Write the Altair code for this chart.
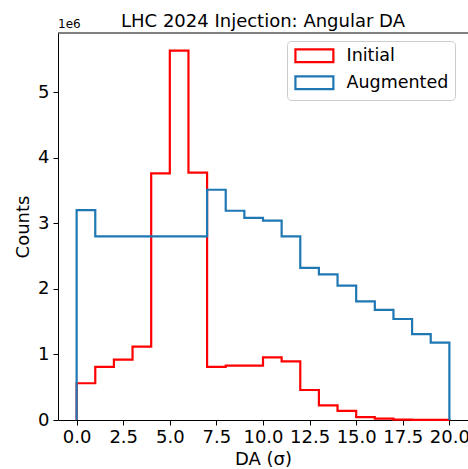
import altair as alt
import pandas as pd

bin_edges = list(range(0, 21))
initial_counts = [0.56e6, 0.81e6, 0.92e6, 1.12e6, 3.76e6, 5.63e6, 3.77e6, 0.81e6, 0.83e6, 0.83e6,
                  0.955e6, 0.895e6, 0.457e6, 0.224e6, 0.14e6, 0.045e6, 0.02e6, 0.007e6, 0.003e6, 0.001e6]
augmented_counts = [3.20e6, 2.80e6, 2.80e6, 2.80e6, 2.80e6, 2.80e6, 2.80e6, 3.51e6, 3.19e6, 3.08e6,
                    3.04e6, 2.80e6, 2.32e6, 2.22e6, 2.05e6, 1.81e6, 1.68e6, 1.54e6, 1.31e6, 1.18e6]
series_names = ["Initial", "Augmented"]
series_colors = ["#ff0000", "#1f77b4"]
x_ticks = [0, 2.5, 5, 7.5, 10, 12.5, 15, 17.5, 20]
y_ticks = [0, 1e6, 2e6, 3e6, 4e6, 5e6]
title_text = "LHC 2024 Injection: Angular DA"


def step_rows(name, counts):
    rows = [{"series": name, "x": bin_edges[0], "y": 0.0}]
    for e, c in zip(bin_edges[:-1], counts):
        rows.append({"series": name, "x": e, "y": c})
    rows.append({"series": name, "x": bin_edges[-1], "y": counts[-1]})
    rows.append({"series": name, "x": bin_edges[-1], "y": 0.0})
    for i, r in enumerate(rows):
        r["idx"] = i
    return rows


df_init = pd.DataFrame(step_rows("Initial", initial_counts))
df_aug = pd.DataFrame(step_rows("Augmented", augmented_counts))

FONT = "DejaVu Sans"

x_enc = alt.X("x:Q", scale=alt.Scale(domain=[-1, 21], nice=False, zero=False),
              axis=alt.Axis(values=x_ticks, format=".1f", title="DA (σ)", grid=False,
                            tickSize=5, labelPadding=3, labelFontSize=18, titleFontSize=18,
                            titleFontWeight="normal", titlePadding=4, labelFlush=False,
                            domainColor="black", tickColor="black", labelColor="black",
                            titleColor="black", labelFont=FONT, titleFont=FONT))
y_enc = alt.Y("y:Q", scale=alt.Scale(domain=[0, 5.9e6], nice=False),
              axis=alt.Axis(values=y_ticks, labelExpr="format(datum.value/1e6, 'd')", title="Counts",
                            grid=False, tickSize=5, labelPadding=4, labelFontSize=18, titleFontSize=18,
                            titleFontWeight="normal", titlePadding=5,
                            domainColor="black", tickColor="black", labelColor="black",
                            titleColor="black", labelFont=FONT, titleFont=FONT))

color_enc = alt.Color("series:N", scale=alt.Scale(domain=series_names, range=series_colors),
                      legend=alt.Legend(title=None, orient="none", legendX=229, legendY=8,
                                        symbolType="M-1,-1L5,-1L5,1L-1,1Z",
                                        symbolSize=160, symbolStrokeWidth=2.2,
                                        symbolFillColor="transparent",
                                        labelFontSize=17.5, labelFont=FONT, labelColor="black",
                                        labelOffset=36, rowPadding=5, padding=6,
                                        strokeColor="#cccccc", fillColor="rgba(255,255,255,0.8)",
                                        cornerRadius=4))

line_init = alt.Chart(df_init).mark_line(interpolate="step-after", strokeWidth=2.2).encode(
    x=x_enc, y=y_enc, color=color_enc, order="idx:Q")
line_aug = alt.Chart(df_aug).mark_line(interpolate="step-after", strokeWidth=2.2).encode(
    x=x_enc, y=y_enc, color=color_enc, order="idx:Q")

top_spine = alt.Chart(pd.DataFrame({"a": [0]})).mark_rule(color="black", strokeWidth=1).encode(
    x=alt.value(0), x2=alt.value(410), y=alt.value(0))

offset_text = alt.Chart(pd.DataFrame({"t": ["1e6"]})).mark_text(
    align="left", baseline="alphabetic", fontSize=12, font=FONT, color="black").encode(
    x=alt.value(0), y=alt.value(-5), text="t:N")

title_mark = alt.Chart(pd.DataFrame({"t": [title_text]})).mark_text(
    align="center", baseline="alphabetic", fontSize=18, font=FONT, color="black").encode(
    x=alt.value(205), y=alt.value(-6), text="t:N")

chart = alt.layer(line_init, line_aug, top_spine, offset_text, title_mark).properties(
    width=410, height=387,
    padding={"left": 58, "top": 33, "right": 0, "bottom": 49},
    autosize="none",
).configure_view(stroke=None)

chart.save("out.html", embed_options={"renderer": "svg", "actions": False})
